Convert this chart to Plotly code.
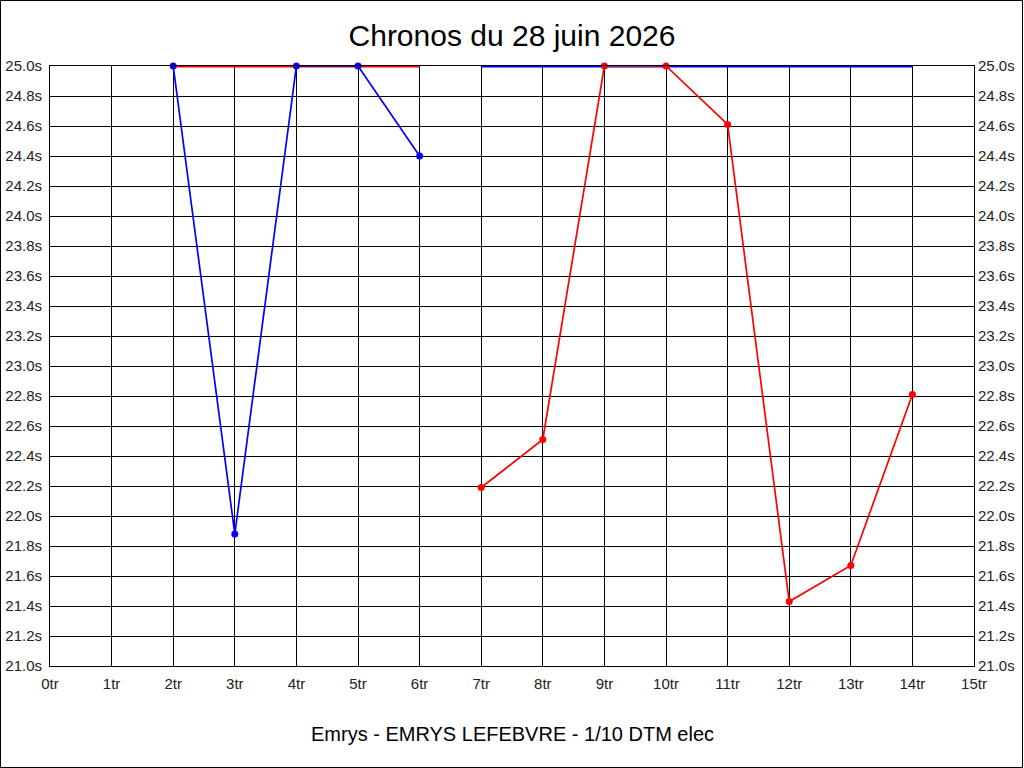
import plotly.graph_objects as go

# lap times (s) - first half of the run (blue driver)
laps_a = [2, 3, 4, 5, 6]
blue_a = [25.0, 21.88, 25.0, 25.0, 24.4]
red_flat_a = [25.0, 25.0, 25.0, 25.0, 25.0]

# second half (red driver)
laps_b = [7, 8, 9, 10, 11, 12, 13, 14]
red_b = [22.19, 22.51, 25.0, 25.0, 24.61, 21.43, 21.67, 22.81]
blue_flat_b = [25.0, 25.0, 25.0, 25.0, 25.0, 25.0, 25.0, 25.0]

x_ticks = list(range(0, 16))
x_labels = [f"{v}tr" for v in x_ticks]
y_ticks = [round(21.0 + 0.2 * i, 1) for i in range(21)]
y_labels = [f"{v:.1f}s" for v in y_ticks]

title_text = "Chronos du 28 juin 2026"
footer_text = "Emrys - EMRYS LEFEBVRE - 1/10 DTM elec"

BLUE = "#0000ff"
RED = "#ff0000"
FONT = "Liberation Sans"

fig = go.Figure()

# flat "no time" lines first, markers on top
fig.add_trace(go.Scatter(x=laps_a, y=red_flat_a, mode="lines",
                         line=dict(color=RED, width=3), cliponaxis=False))
# the rest goes on y2 so the right-hand axis gets drawn
fig.add_trace(go.Scatter(x=laps_b, y=blue_flat_b, mode="lines", yaxis="y2",
                         line=dict(color=BLUE, width=3), cliponaxis=False))
fig.add_trace(go.Scatter(x=laps_a, y=blue_a, mode="lines+markers", yaxis="y2",
                         line=dict(color=BLUE, width=1.7),
                         marker=dict(color=BLUE, size=7), cliponaxis=False))
fig.add_trace(go.Scatter(x=laps_b, y=red_b, mode="lines+markers", yaxis="y2",
                         line=dict(color=RED, width=1.7),
                         marker=dict(color=RED, size=7), cliponaxis=False))

axis_font = dict(family=FONT, size=15, color="#222222")

fig.update_layout(
    width=1024, height=768,
    margin=dict(l=50, r=50, t=66, b=102),
    paper_bgcolor="white", plot_bgcolor="white",
    showlegend=False,
    title=dict(text=title_text, x=0.5, xanchor="center",
               y=1 - 35 / 768, yanchor="middle",
               font=dict(family=FONT, size=30, color="black")),
    xaxis=dict(range=[0, 15], tickmode="array", tickvals=x_ticks, ticktext=x_labels,
               showgrid=True, gridcolor="black", gridwidth=1,
               showline=True, linecolor="black", linewidth=1, mirror=True,
               zeroline=False, ticks="", tickfont=axis_font, ticklabelstandoff=4,
               automargin=False),
    yaxis=dict(range=[21.0, 25.0], tickmode="array", tickvals=y_ticks, ticktext=y_labels,
               showgrid=True, gridcolor="black", gridwidth=1,
               showline=True, linecolor="black", linewidth=1, mirror=True,
               zeroline=False, ticks="", tickfont=axis_font, ticklabelstandoff=4,
               automargin=False),
    yaxis2=dict(range=[21.0, 25.0], matches="y", overlaying="y", side="right",
                tickmode="array", tickvals=y_ticks, ticktext=y_labels,
                showgrid=False, zeroline=False, ticks="", tickfont=axis_font,
                ticklabelstandoff=3, automargin=False),
    annotations=[dict(text=footer_text, xref="paper", yref="paper",
                      x=0.5, y=-68 / 600, xanchor="center", yanchor="middle",
                      showarrow=False,
                      font=dict(family=FONT, size=20, color="black"))],
    shapes=[dict(type="rect", xref="paper", yref="paper",
                 x0=-49.5 / 924, x1=1 + 48.5 / 924,
                 y0=-101.5 / 600, y1=1 + 65.5 / 600,
                 line=dict(color="black", width=1), layer="below")],
)

fig.write_html("out.html", config={"displayModeBar": False},
               post_script="document.body.style.margin='0';")
